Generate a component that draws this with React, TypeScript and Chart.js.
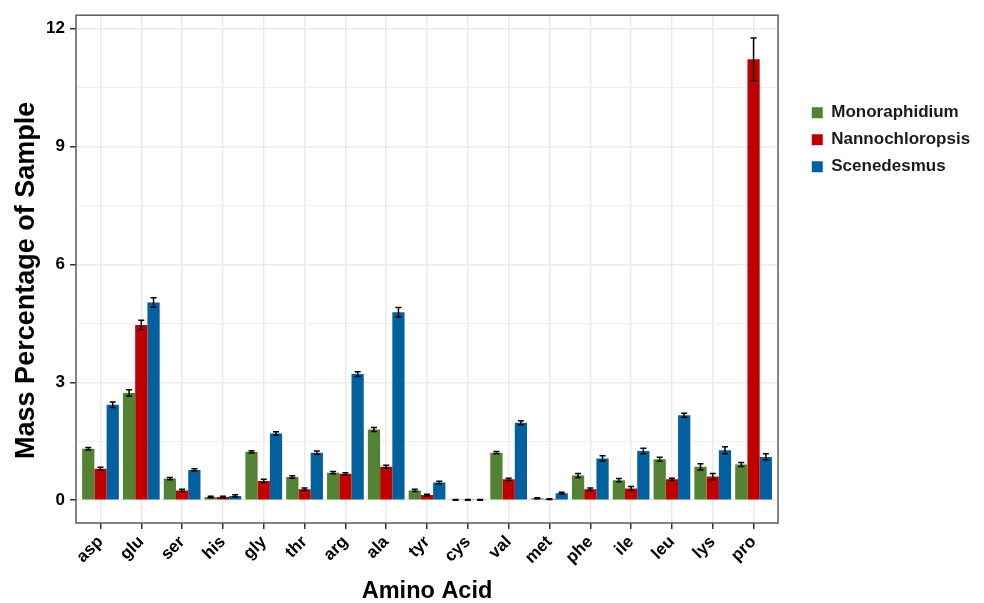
import React, { useEffect, useRef } from "react";
import { Chart, registerables } from "chart.js";

Chart.register(...registerables);

const categories = ["asp", "glu", "ser", "his", "gly", "thr", "arg", "ala", "tyr", "cys", "val", "met", "phe", "ile", "leu", "lys", "pro"];

const seriesNames = ["Monoraphidium", "Nannochloropsis", "Scenedesmus"];
const seriesColors = ["#548235", "#C00000", "#03609E"];

const monoValues = [1.31, 2.73, 0.55, 0.08, 1.23, 0.59, 0.70, 1.80, 0.25, 0.01, 1.21, 0.05, 0.63, 0.51, 1.04, 0.85, 0.91];
const nannoValues = [0.80, 4.46, 0.25, 0.08, 0.49, 0.28, 0.67, 0.85, 0.13, 0.01, 0.53, 0.03, 0.28, 0.30, 0.53, 0.60, 11.22];
const sceneValues = [2.43, 5.03, 0.77, 0.11, 1.70, 1.21, 3.21, 4.78, 0.45, 0.01, 1.97, 0.18, 1.06, 1.25, 2.16, 1.27, 1.10];

const monoErrors = [0.03, 0.08, 0.03, 0.02, 0.03, 0.03, 0.03, 0.05, 0.03, 0.01, 0.03, 0.01, 0.05, 0.04, 0.05, 0.08, 0.05];
const nannoErrors = [0.04, 0.12, 0.03, 0.02, 0.04, 0.03, 0.03, 0.04, 0.02, 0.01, 0.03, 0.01, 0.03, 0.05, 0.03, 0.08, 0.54];
const sceneErrors = [0.07, 0.12, 0.03, 0.03, 0.04, 0.04, 0.06, 0.12, 0.03, 0.01, 0.05, 0.02, 0.07, 0.07, 0.05, 0.09, 0.08];

const yTickValues = [0, 1.5, 3, 4.5, 6, 7.5, 9, 10.5, 12];
const yMin = -0.58;
const yMax = 12.34;

const FONT = "'Liberation Sans', Arial, Helvetica, sans-serif";

const errorBarPlugin = {
  id: "errorBars",
  afterDatasetsDraw(chart: any) {
    const ctx = chart.ctx;
    const yScale = chart.scales.y;
    ctx.save();
    ctx.strokeStyle = "#000";
    ctx.lineWidth = 1.5;
    chart.data.datasets.forEach((ds: any, i: number) => {
      const meta = chart.getDatasetMeta(i);
      meta.data.forEach((el: any, j: number) => {
        const v = ds.data[j];
        const e = ds.errors[j];
        const top = yScale.getPixelForValue(v + e);
        const bot = yScale.getPixelForValue(v - e);
        const x = el.x;
        const cap = 3;
        ctx.beginPath();
        ctx.moveTo(x, top);
        ctx.lineTo(x, bot);
        ctx.moveTo(x - cap, top);
        ctx.lineTo(x + cap, top);
        ctx.moveTo(x - cap, bot);
        ctx.lineTo(x + cap, bot);
        ctx.stroke();
      });
    });
    ctx.restore();
  },
};

const panelBorderPlugin = {
  id: "panelBorder",
  afterDraw(chart: any) {
    const { ctx, chartArea } = chart;
    ctx.save();
    ctx.strokeStyle = "#5c5c5c";
    ctx.lineWidth = 1.5;
    ctx.strokeRect(chartArea.left, chartArea.top, chartArea.right - chartArea.left, chartArea.bottom - chartArea.top);
    ctx.restore();
  },
};

// leave a gap between the panel and the legend keys (ggplot-style legend margin)
const legendGapPlugin = {
  id: "legendGap",
  afterLayout(chart: any) {
    const lg = chart.legend;
    if (!lg) return;
    lg.left += 23.7;
    lg.right += 23.7;
  },
};

export default function App() {
  const canvasRef = useRef<HTMLCanvasElement | null>(null);

  useEffect(() => {
    if (!canvasRef.current) return;
    const values = [monoValues, nannoValues, sceneValues];
    const errors = [monoErrors, nannoErrors, sceneErrors];
    const chart = new Chart(canvasRef.current, {
      type: "bar",
      data: {
        labels: categories,
        datasets: seriesNames.map((name, i) => ({
          label: name,
          data: values[i],
          errors: errors[i],
          backgroundColor: seriesColors[i],
          borderWidth: 0,
          categoryPercentage: 0.9,
          barPercentage: 1.0,
        })) as any,
      },
      options: {
        responsive: false,
        animation: false,
        layout: { padding: { left: 0, top: 13, right: 27.6, bottom: 0 } },
        plugins: {
          tooltip: { enabled: false },
          legend: {
            position: "right",
            align: "start",
            title: {
              display: true,
              text: " ",
              font: { size: 16, family: FONT },
              padding: { top: 62, bottom: 0 },
            },
            labels: {
              boxWidth: 11,
              boxHeight: 11,
              padding: 10,
              color: "#1a1a1a",
              font: { size: 17, weight: "bold", family: FONT },
            },
          },
        },
        scales: {
          x: {
            type: "category",
            offset: true,
            afterBuildTicks: (s: any) => {
              s._startValue = -0.6;
              s._valueRange = categories.length - 1 + 1.2;
            },
            afterFit: (s: any) => {
              s.height = 80;
            },
            grid: {
              offset: false,
              color: "#EBEBEB",
              lineWidth: 1.5,
              tickColor: "#333333",
              tickLength: 6,
              tickWidth: 1.5,
            },
            border: { display: false },
            ticks: {
              color: "#000",
              font: { size: 17, weight: "bold", family: FONT },
              minRotation: 45,
              maxRotation: 45,
              padding: 3,
              autoSkip: false,
            },
            title: {
              display: true,
              text: "Amino Acid",
              color: "#000",
              font: { size: 23.5, weight: "bold", family: FONT },
              padding: { top: 0, bottom: -3 },
            },
          },
          y: {
            type: "linear",
            min: yMin,
            max: yMax,
            afterBuildTicks: (s: any) => {
              s.ticks = yTickValues.map((v) => ({ value: v }));
            },
            afterFit: (s: any) => {
              s.width = 76;
            },
            grid: {
              color: (c: any) => (c.tick && c.tick.value % 3 === 0 ? "#EBEBEB" : "#EFEFEF"),
              lineWidth: (c: any) => (c.tick && c.tick.value % 3 === 0 ? 1.5 : 1),
              tickColor: (c: any) => (c.tick && c.tick.value % 3 === 0 ? "#333333" : "rgba(0,0,0,0)"),
              tickLength: 6,
              tickWidth: 1.5,
            },
            border: { display: false },
            ticks: {
              color: "#000",
              font: { size: 17, weight: "bold", family: FONT },
              padding: 5,
              callback: (v: any) => (Number(v) % 3 === 0 ? String(v) : ""),
            },
            title: {
              display: true,
              text: "Mass Percentage of Sample   ",
              color: "#000",
              font: { size: 27, weight: "bold", family: FONT },
              padding: { top: 10, bottom: 0 },
            },
          },
        },
      } as any,
      plugins: [errorBarPlugin, panelBorderPlugin, legendGapPlugin],
    });
    return () => chart.destroy();
  }, []);

  return (
    <div style={{ position: "absolute", left: 0, top: 0, width: 984, height: 603, background: "#fff" }}>
      <canvas ref={canvasRef} width={984} height={603} style={{ display: "block" }} />
    </div>
  );
}
